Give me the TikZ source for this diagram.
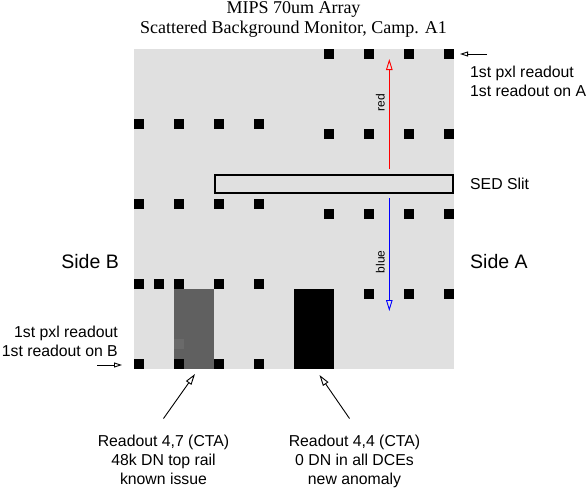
\documentclass[tikz,border=0pt]{standalone}
\usepackage{fontspec}
\setmainfont{Liberation Serif}
\setsansfont{Liberation Sans}
\usetikzlibrary{arrows.meta, positioning}

\definecolor{arraygray}{RGB}{224,224,224}
\definecolor{railgray}{RGB}{96,96,96}
\definecolor{railpix}{RGB}{106,106,106}

\tikzset{
  lbl/.style={font=\sffamily\fontsize{15.8}{19.3}\selectfont, inner sep=0pt},
  side/.style={font=\sffamily\fontsize{19.5}{22}\selectfont, inner sep=0pt},
  ttl/.style={font=\fontsize{18}{20}\selectfont, inner sep=0pt, anchor=base},
  dir/.style={font=\sffamily\fontsize{12}{14}\selectfont, text=black, rotate=90, anchor=south, inner sep=4pt},
  pix/.style={fill=black},
  ptr/.style={-{Triangle[open, length=8pt, width=5pt]}, line width=0.9pt},
  note/.style={-{Triangle[open, length=11pt, width=6.5pt]}, line width=0.9pt},
}

\begin{document}
\begin{tikzpicture}[x=1pt, y=-1pt]
  \useasboundingbox (0,0) rectangle (588,488);

  % titles
  \node[ttl] (title) at (293.5,13.3) {MIPS 70um Array};
  \node[ttl] (camp) at (293.5,33.3) {Scattered Background Monitor, Camp. A1};

  % array: 32x32 pixels, 10pt each
  \fill[arraygray] (134,49) rectangle (454,369);
  \fill[railgray] (174,289) rectangle (214,369);
  \fill[railpix] (174,339) rectangle ++(10,10);
  \fill[black] (294,289) rectangle (334,369);
  \foreach \c in {19,23,27,31}
    \foreach \r in {0,8,16,24}
      \fill[pix] (134+10*\c,49+10*\r) rectangle ++(10,10);
  \foreach \c in {0,4,8,12}
    \foreach \r in {7,15,23,31}
      \fill[pix] (134+10*\c,49+10*\r) rectangle ++(10,10);
  \fill[pix] (154,279) rectangle ++(10,10);

  % slit and dispersion directions
  \node[draw, line width=2pt, minimum width=238pt, minimum height=18pt, inner sep=0pt] (slit) at (334,184) {};
  \node[lbl, right=16pt of slit] (sedlbl) {SED Slit};
  \coordinate (redtip) at (389.3,59);
  \coordinate (bluetip) at (389.3,311);
  \path (slit.north -| redtip) edge[note, red, shorten <=5pt] node[dir, pos=0.62] {red} (redtip)
        (slit.south -| bluetip) edge[note, blue, shorten <=4pt] node[dir, pos=0.58] {blue} (bluetip);

  % sides and first readouts
  \node[side, anchor=base east] (sideB) at (119,268) {Side B};
  \node[side, anchor=base west] (sideA) at (470,268.3) {Side A};
  \node[lbl, anchor=north west, align=left] (readA) at (470,65.4) {1st pxl readout\\1st readout on A};
  \node[lbl, anchor=north east, align=right] (readB) at (118,325.7) {1st pxl readout\\1st readout on B};
  \coordinate (pxlA) at (460,54);
  \coordinate (pxlB) at (122,365);
  \draw[ptr] ([xshift=27pt]pxlA) -- (pxlA);
  \draw[ptr] ([xshift=-25pt]pxlB) -- (pxlB);

  % bad readouts
  \node[lbl, align=center, anchor=north] (rail47) at (163.5,434.5) {Readout 4,7 (CTA)\\48k DN top rail\\known issue};
  \node[lbl, align=center, anchor=north] (zero44) at (354.5,434.5) {Readout 4,4 (CTA)\\0 DN in all DCEs\\new anomaly};
  \coordinate (tip47) at (195,374);
  \coordinate (tip44) at (319.5,375);
  \draw[note] ([yshift=16pt]rail47.north) -- (tip47);
  \draw[note] ([xshift=-5pt,yshift=16pt]zero44.north) -- (tip44);
\end{tikzpicture}
\end{document}
